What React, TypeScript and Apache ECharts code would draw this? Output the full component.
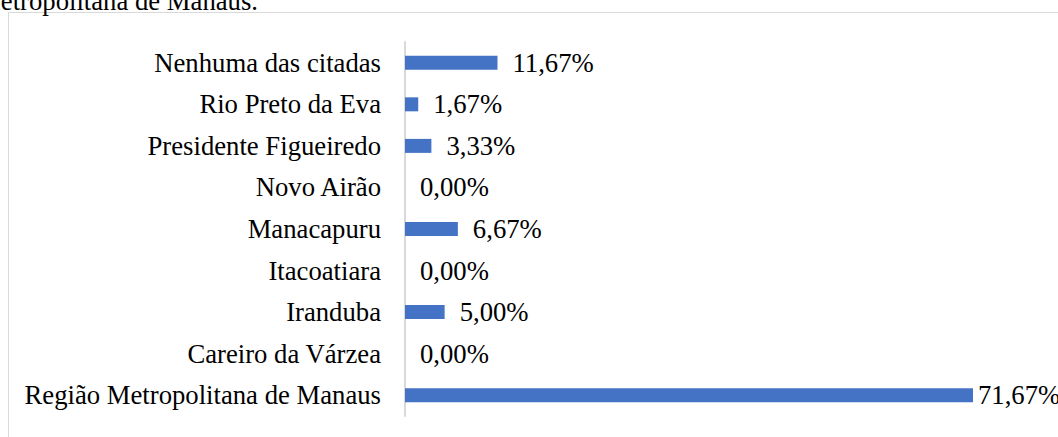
import React, { useEffect, useRef } from "react";
import * as echarts from "echarts";

const categories = [
  "Região Metropolitana de Manaus",
  "Careiro da Várzea",
  "Iranduba",
  "Itacoatiara",
  "Manacapuru",
  "Novo Airão",
  "Presidente Figueiredo",
  "Rio Preto da Eva",
  "Nenhuma das citadas",
];
const values = [71.67, 0.0, 5.0, 0.0, 6.67, 0.0, 3.33, 1.67, 11.67];
const captionText = "Metropolitana de Manaus.";

const FONT = "'Liberation Serif', 'Times New Roman', serif";

export default function App() {
  const ref = useRef<HTMLDivElement>(null);
  useEffect(() => {
    if (!ref.current) return;
    const chart = echarts.init(ref.current, null, { renderer: "svg" });
    const data = values.map((v, i) =>
      i === 0 ? { value: v, label: { distance: 5 } } : { value: v }
    );
    chart.setOption({
      animation: false,
      backgroundColor: "#ffffff",
      grid: { left: 405, top: 42, height: 374, width: 634, containLabel: false },
      xAxis: {
        type: "value",
        min: 0,
        max: 80,
        show: false,
      },
      yAxis: {
        type: "category",
        data: categories,
        axisLine: { show: true, lineStyle: { color: "#d9d9d9", width: 2 } },
        axisTick: { show: false },
        axisLabel: {
          color: "#000000",
          fontFamily: FONT,
          fontSize: 26.7,
          margin: 24,
        },
        splitLine: { show: false },
      },
      series: [
        {
          type: "bar",
          data,
          barWidth: 14,
          itemStyle: { color: "#4472C4" },
          label: {
            show: true,
            position: "right",
            distance: 15,
            color: "#000000",
            fontFamily: FONT,
            fontSize: 26.7,
            formatter: (p: any) => p.value.toFixed(2).replace(".", ",") + "%",
          },
        },
      ],
      graphic: [
        {
          type: "rect",
          shape: { x: 8.5, y: 12.5, width: 1070, height: 450 },
          style: { fill: "none", stroke: "#d9d9d9", lineWidth: 1 },
          silent: true,
        },
        {
          type: "text",
          x: 258,
          y: 14,
          style: {
            text: captionText,
            font: `26.7px ${FONT}`,
            fill: "#000000",
            textAlign: "right",
            textVerticalAlign: "bottom",
          },
        },
      ],
    });
    return () => chart.dispose();
  }, []);
  return (
    <div
      ref={ref}
      style={{ position: "absolute", left: 0, top: 0, width: 1058, height: 437 }}
    />
  );
}
